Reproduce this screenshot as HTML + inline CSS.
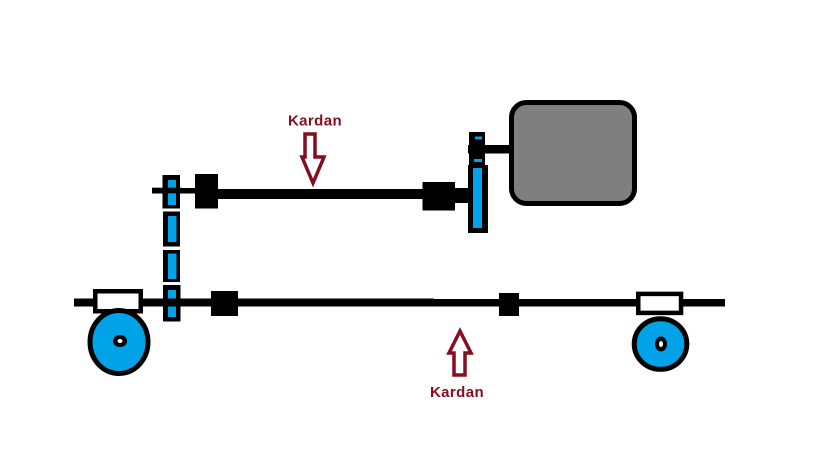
<!DOCTYPE html>
<html><head><meta charset="utf-8"><style>
html,body{margin:0;padding:0;background:#fff;}
svg{display:block;}
text{font-family:"Liberation Sans",sans-serif;font-weight:bold;font-size:15px;fill:#840d1f;}
</style></head><body>
<svg width="819" height="460" viewBox="0 0 819 460" xmlns="http://www.w3.org/2000/svg">
<rect width="819" height="460" fill="#fff"/>
<!-- top shaft -->
<rect x="152" y="188" width="45" height="5.5" fill="#000"/>
<rect x="216" y="189" width="208" height="10" fill="#000"/>
<rect x="195" y="174" width="23" height="34.5" fill="#000"/>
<rect x="422.5" y="182" width="32.5" height="28.5" fill="#000"/>
<rect x="454" y="188" width="16" height="15" fill="#000"/>
<!-- vertical gear bar -->
<rect x="468" y="165" width="20" height="68" fill="#000"/>
<rect x="473" y="168" width="9" height="60" fill="#00a2e8"/>
<rect x="469" y="132" width="16" height="36" fill="#000"/>
<rect x="475" y="136.5" width="7" height="3" fill="#00a2e8"/>
<rect x="474" y="159" width="8" height="3" fill="#00a2e8"/>
<rect x="468" y="145" width="44" height="8.5" fill="#000"/>
<!-- engine -->
<rect x="511.5" y="102.5" width="123" height="101" rx="15" ry="15" fill="#7f7f7f" stroke="#000" stroke-width="5"/>
<!-- left chain -->
<rect x="162.5" y="175" width="17.5" height="33.5" fill="#000"/>
<rect x="168" y="180" width="8" height="25" fill="#00a2e8"/>
<rect x="152" y="187.7" width="30" height="5.6" fill="#000"/>
<rect x="163" y="211.5" width="17" height="35" fill="#000"/>
<rect x="168" y="216" width="8.5" height="26" fill="#00a2e8"/>
<rect x="163" y="250" width="17" height="32" fill="#000"/>
<rect x="168" y="253.5" width="8.5" height="25.5" fill="#00a2e8"/>
<rect x="163" y="285" width="17.5" height="36.5" fill="#000"/>
<rect x="168" y="290" width="8" height="27" fill="#00a2e8"/>
<!-- bottom shaft -->
<rect x="74" y="298.5" width="360" height="8" fill="#000"/>
<rect x="433" y="299" width="292" height="7.5" fill="#000"/>
<rect x="211" y="291" width="27" height="25" fill="#000"/>
<rect x="499" y="293" width="20" height="23" fill="#000"/>
<!-- bearings -->
<rect x="95.25" y="291.25" width="45.5" height="20" fill="#fff" stroke="#000" stroke-width="4.5"/>
<rect x="638.25" y="293.9" width="42.8" height="19" fill="#fff" stroke="#000" stroke-width="4.5"/>
<!-- wheels -->
<ellipse cx="119" cy="342" rx="29" ry="31.5" fill="#00a2e8" stroke="#000" stroke-width="5"/>
<ellipse cx="120" cy="341" rx="7" ry="6" fill="#000"/>
<ellipse cx="120" cy="341" rx="2.5" ry="2" fill="#fff"/>
<ellipse cx="660.5" cy="344" rx="26.3" ry="25.3" fill="#00a2e8" stroke="#000" stroke-width="5"/>
<ellipse cx="661" cy="344" rx="6" ry="7.5" fill="#000"/>
<ellipse cx="661" cy="344" rx="2" ry="3" fill="#fff"/>
<!-- arrows -->
<polygon points="305,134 315,134 315,157 324,157 313,183 302,157 305,157" fill="#fff" stroke="#840d1f" stroke-width="3.5" stroke-linejoin="miter"/>
<polygon points="460,331 471,353 465,353 465,375 454,375 454,353 449,353" fill="#fff" stroke="#840d1f" stroke-width="3.5" stroke-linejoin="miter"/>
<text x="315" y="125.5" text-anchor="middle" letter-spacing="0.4">Kardan</text>
<text x="457" y="397" text-anchor="middle" letter-spacing="0.4">Kardan</text>
</svg>
</body></html>
